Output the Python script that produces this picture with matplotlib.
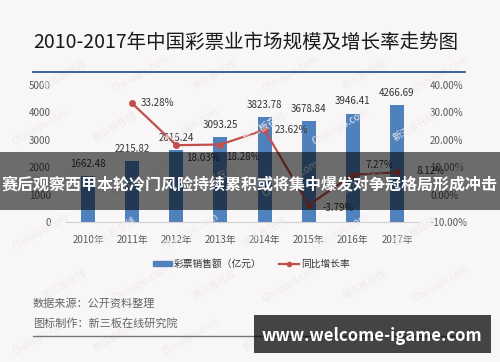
import numpy as np
import matplotlib
matplotlib.use("Agg")
import matplotlib.pyplot as plt
from matplotlib.lines import Line2D
from matplotlib.patches import Patch, Rectangle

plt.rcParams['font.family'] = ['Noto Sans CJK SC', 'DejaVu Sans']

# 数据
years = ['2010年', '2011年', '2012年', '2013年', '2014年', '2015年', '2016年', '2017年']
sales = [1662.48, 2215.82, 2615.24, 3093.25, 3823.78, 3678.84, 3946.41, 4266.69]
growth_years = [1, 2, 3, 4, 5, 6, 7]
growth = [33.28, 18.03, 18.28, 23.62, -3.79, 7.27, 8.12]
growth_offsets = [(6, 0), (7, -9), (4, -9), (7, 0), (10, -2), (9, 7), (14, 1)]

bg = '#f8f6f7'
bar_c = '#4f81bd'
line_c = '#c0504d'
txt_c = '#595959'

fig = plt.figure(figsize=(5, 3.62), dpi=100, facecolor=bg)

# 水印
for j, yy in enumerate(np.arange(0.07, 0.93, 0.145)):
    for i, xx in enumerate(np.arange(0.08, 0.86, 0.15)):
        s = 'Chinaipo.com' if (i + j) % 2 == 0 else '新三板在线'
        fig.text(xx + (j % 2) * 0.05, yy, s, rotation=30, fontsize=7,
                 color='#eeeaec', ha='center', va='center', zorder=0)

# 标题
fig.text(33 / 500, 1 - 42 / 362, '2010-2017年中国彩票业市场规模及增长率走势图',
         fontsize=14, color='#1a1a1a', ha='left', va='center')
fig.add_artist(Line2D([33 / 500, 465 / 500], [1 - 72 / 362] * 2,
                      color='#2f5597', lw=1.3))

ax = fig.add_axes([66 / 500, 1 - 222 / 362, (419 - 66) / 500, (222 - 85) / 362])
ax.set_facecolor('none')
x = np.arange(len(years))
ax.bar(x, sales, width=0.32, color=bar_c, zorder=2)
for xi, v in zip(x, sales):
    ax.annotate(f'{v:.2f}', (xi, v), xytext=(0, 9), textcoords='offset points',
                ha='center', va='center', fontsize=7, color='#333333')
ax.set_xlim(-0.5, len(years) - 0.5)
ax.set_ylim(0, 5000)
ax.set_yticks(range(0, 5001, 1000))
ax.set_xticks(x)
ax.set_xticklabels(years)
for s in ['top', 'right', 'left']:
    ax.spines[s].set_visible(False)
ax.spines['bottom'].set_color('#d0d0d0')
ax.tick_params(length=0, labelsize=7, colors=txt_c)
ax.tick_params(axis='x', pad=9)
ax.tick_params(axis='y', pad=11)

ax2 = ax.twinx()
ax2.plot(growth_years, growth, color=line_c, lw=1.6, marker='o', markersize=4, zorder=3)
for xi, v, off in zip(growth_years, growth, growth_offsets):
    ax2.annotate(f'{v:.2f}%', (xi, v), xytext=off, textcoords='offset points',
                 ha='left', va='center', fontsize=7, color='#333333')
ax2.set_ylim(-10, 40)
ax2.set_yticks(range(-10, 41, 10))
ax2.set_yticklabels([f'{t:.2f}%' for t in range(-10, 41, 10)])
for s in ax2.spines.values():
    s.set_visible(False)
ax2.tick_params(length=0, labelsize=7, colors=txt_c, pad=8)

# 图例
handles = [Patch(color=bar_c), Line2D([], [], color=line_c, lw=1.6, marker='o', markersize=3)]
fig.legend(handles, ['彩票销售额（亿元）', '同比增长率'], loc='center',
           bbox_to_anchor=(251 / 500, 1 - 264 / 362), ncol=2, frameon=False,
           fontsize=7, handlelength=2.0, handleheight=0.5, columnspacing=1.8,
           handletextpad=0.2, labelcolor='#333333')

# 来源
fig.text(33 / 500, 1 - 304 / 362, '数据来源：公开资料整理', fontsize=8, color='#666666',
         ha='left', va='center')
fig.text(33 / 500, 1 - 323 / 362, '图标制作：新三板在线研究院', fontsize=8, color='#666666',
         ha='left', va='center')
fig.add_artist(Line2D([33 / 500, 465 / 500], [1 - 336 / 362] * 2, color='#777777', lw=1))

# 遮罩横幅
fig.add_artist(Rectangle((0, 1 - 210 / 362), 1, 58 / 362, transform=fig.transFigure,
                         color='black', alpha=0.56, lw=0, zorder=10))
fig.text(0.5, 1 - 184 / 362, '赛后观察西甲本轮冷门风险持续累积或将集中爆发对争冠格局形成冲击',
         fontsize=11.5, fontweight='bold', color='white', ha='center', va='center', zorder=11)

fig.add_artist(Rectangle((254 / 500, 1 - 353 / 362), 237 / 500, 38 / 362,
                         transform=fig.transFigure, color='black', alpha=0.72, lw=0, zorder=10))
fig.text(371.5 / 500, 1 - 336 / 362, 'www.welcome-igame.com', fontsize=12,
         fontweight='bold', color='white', ha='center', va='center', zorder=11)

fig.savefig('out.png', dpi=100, facecolor=bg)
